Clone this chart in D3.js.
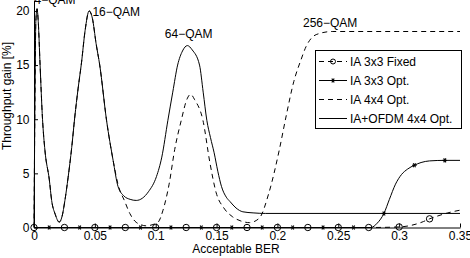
<!DOCTYPE html>
<html><head><meta charset="utf-8">
<script src="https://cdn.jsdelivr.net/npm/d3@7"></script>
<style>body{margin:0;background:#fff}svg{display:block}text{font-family:"Liberation Sans",Arial,sans-serif;fill:#000}</style>
</head><body><svg id="c" width="470" height="258"></svg>
<script>
// IA+OFDM 4x4 Opt. (solid)
const ofdmX = [0,0.0008,0.0015,0.0025,0.0035,0.005,0.007,0.009,0.0126,0.0145,0.0175,0.0207,0.023,0.0254,0.028,0.031,0.0335,0.0362,0.039,0.042,0.0453,0.048,0.051,0.054,0.0596,0.065,0.069,0.074,0.079,0.084,0.089,0.094,0.1006,0.105,0.110,0.114,0.118,0.122,0.126,0.130,0.136,0.139,0.142,0.145,0.148,0.151,0.154,0.158,0.161,0.166,0.1716,0.18,0.19,0.35];
const ofdmY = [0,12,19,20.2,19,15,10,7.1,4.4,2.5,1.2,0.5,1.0,2.5,4.6,7.4,10.2,12.8,15.2,18.2,20,19.3,17,15,9.9,6.2,3.8,2.9,2.6,2.5,2.7,3.3,4.7,6.5,9.9,12.5,15,16.3,16.8,16.4,15,12.5,9.9,8.3,6.9,5.2,3.8,2.8,2.4,1.8,1.45,1.35,1.3,1.3];
// IA 4x4 Opt. (dashed)
const ia44X = [0,0.0008,0.0015,0.0025,0.0035,0.005,0.007,0.009,0.0126,0.0145,0.0175,0.0207,0.023,0.0254,0.028,0.031,0.0335,0.0362,0.039,0.042,0.0453,0.048,0.051,0.054,0.0596,0.065,0.069,0.0746,0.0787,0.0828,0.088,0.0924,0.097,0.102,0.106,0.111,0.1156,0.121,0.1255,0.1287,0.132,0.1388,0.1445,0.1497,0.156,0.163,0.170,0.177,0.185,0.193,0.2016,0.207,0.2135,0.2194,0.2235,0.228,0.234,0.245,0.35];
const ia44Y = [0,12,19,20.2,19,15,10,7.1,4.4,2.5,1.2,0.5,1.0,2.5,4.6,7.4,10.2,12.8,15.2,18.2,20,19.3,17,15,9.9,6.2,4.0,2.4,1.3,0.6,0.25,0.15,0.25,0.5,1.6,4,7.2,9.9,11.8,12.3,11.8,9.9,6,3.2,1.8,1.0,0.6,0.45,0.85,3.2,7.2,10.2,13.5,15.5,16.7,17.5,17.9,18.1,18.1];
// IA 3x3 Fixed (dashed, circles)
const fixedX = [0,0.025,0.05,0.075,0.1,0.125,0.15,0.175,0.2,0.225,0.25,0.275,0.3,0.31,0.32,0.325,0.33,0.34,0.35];
const fixedY = [0,0,0,0,0,0,0,0,0,0,0,0,0.05,0.2,0.55,0.8,1.0,1.35,1.6];
const fixedMarkX = [0,0.025,0.05,0.075,0.1,0.125,0.15,0.175,0.2,0.225,0.25,0.275,0.3,0.325];
const fixedMarkY = [0,0,0,0,0,0,0,0,0,0,0,0,0.05,0.8];
// IA 3x3 Opt. (solid, asterisks)
const optX = [0,0.0125,0.0375,0.0625,0.0875,0.1125,0.1375,0.1625,0.1875,0.2125,0.2375,0.2625,0.2768,0.282,0.2875,0.292,0.297,0.302,0.307,0.3125,0.318,0.325,0.3375,0.35];
const optY = [0,0,0,0,0,0,0,0,0,0,0,0,0,0.4,1.3,2.6,4.0,4.9,5.4,5.75,6.0,6.15,6.2,6.2];
const optMarkX = [0.0125,0.0375,0.0625,0.0875,0.1125,0.1375,0.1625,0.1875,0.2125,0.2375,0.2625,0.2875,0.3125,0.3375];
const optMarkY = [0,0,0,0,0,0,0,0,0,0,0,1.3,5.75,6.2];

const xTicks = [0,0.05,0.1,0.15,0.2,0.25,0.3,0.35];
const xTickLabels = ["0","0.05","0.1","0.15","0.2","0.25","0.3","0.35"];
const yTicks = [0,5,10,15,20];
const seriesNames = ["IA 3x3 Fixed","IA 3x3 Opt.","IA 4x4 Opt.","IA+OFDM 4x4 Opt."];
const peakLabels = ["4\u2212QAM","16\u2212QAM","64\u2212QAM","256\u2212QAM"];
const peakLabelX = [0.0004,0.048,0.1075,0.221];
const peakLabelY = [20.6,19.55,17.5,18.55];

const svg = d3.select("#c");
const x = d3.scaleLinear().domain([0,0.35]).range([34,460]);
const y = d3.scaleLinear().domain([0,21]).range([227.5,0.1]);
const F = 12;

const line = d3.line().x(d=>x(d[0])).y(d=>y(d[1])).curve(d3.curveMonotoneX);
const zip = (a,b)=>a.map((v,i)=>[v,b[i]]);

const g = svg.append("g");
g.append("path").attr("d", line(zip(ofdmX,ofdmY))).attr("fill","none").attr("stroke","#000").attr("stroke-width",1);
g.append("path").attr("d", line(zip(ia44X,ia44Y))).attr("fill","none").attr("stroke","#000").attr("stroke-width",1).attr("stroke-dasharray","5,4");
g.append("path").attr("d", line(zip(fixedX,fixedY))).attr("fill","none").attr("stroke","#000").attr("stroke-width",1).attr("stroke-dasharray","5,4");
g.append("path").attr("d", line(zip(optX,optY))).attr("fill","none").attr("stroke","#000").attr("stroke-width",1);

function circ(sel,cx,cy,r){ sel.append("circle").attr("cx",cx).attr("cy",cy).attr("r",r).attr("fill","none").attr("stroke","#000").attr("stroke-width",1); }
function star(sel,cx,cy,r){
  const gg = sel.append("g").attr("transform",`translate(${cx},${cy})`);
  [0,60,120].forEach(a=>{
    const t=a*Math.PI/180;
    gg.append("line").attr("x1",-r*Math.cos(t)).attr("y1",-r*Math.sin(t)).attr("x2",r*Math.cos(t)).attr("y2",r*Math.sin(t)).attr("stroke","#000").attr("stroke-width",1.1);
  });
}
fixedMarkX.forEach((v,i)=>circ(g,x(v),y(fixedMarkY[i]),3.2));
optMarkX.forEach((v,i)=>star(g,x(v),y(optMarkY[i]),2.3));

// axes
const xa = svg.append("g").attr("transform","translate(0,227.5)")
  .call(d3.axisBottom(x).tickValues(xTicks).tickFormat((d,i)=>xTickLabels[i]).tickSizeInner(-4).tickSizeOuter(0).tickPadding(4));
xa.select(".domain").attr("stroke","#000");
xa.selectAll("text").attr("font-size",F).attr("font-family","Liberation Sans, Arial, sans-serif").attr("fill","#000");
const ya = svg.append("g").attr("transform","translate(34,0)")
  .call(d3.axisLeft(y).tickValues(yTicks).tickSizeInner(-4).tickSizeOuter(0).tickPadding(4.5));
ya.select(".domain").attr("stroke","#000");
ya.selectAll("text").attr("font-size",F).attr("font-family","Liberation Sans, Arial, sans-serif").attr("fill","#000");

svg.append("text").attr("x",236).attr("y",253).attr("text-anchor","middle").attr("font-size",F).text("Acceptable BER");
svg.append("text").attr("transform","translate(11,96) rotate(-90)").attr("text-anchor","middle").attr("font-size",F).text("Throughput gain [%]");

peakLabels.forEach((t,i)=>{
  svg.append("text").attr("x",x(peakLabelX[i])).attr("y",y(peakLabelY[i])).attr("font-size",F).text(t);
});

// legend
const lg = svg.append("g");
lg.append("rect").attr("x",315.5).attr("y",50.5).attr("width",146).attr("height",78).attr("fill","#fff").attr("stroke","#000").attr("stroke-width",1);
const rowY = [61.5,80.5,99.5,118.5];
seriesNames.forEach((n,i)=>{
  const ry = rowY[i];
  const l = lg.append("line").attr("x1",319).attr("x2",347).attr("y1",ry).attr("y2",ry).attr("stroke","#000").attr("stroke-width",1);
  if(i===0||i===2) l.attr("stroke-dasharray","5,4");
  if(i===0) circ(lg,333,ry,2.5);
  if(i===1) star(lg,333,ry,2.3);
  lg.append("text").attr("x",350).attr("y",ry+4.3).attr("font-size",F).text(n);
});
</script></body></html>
